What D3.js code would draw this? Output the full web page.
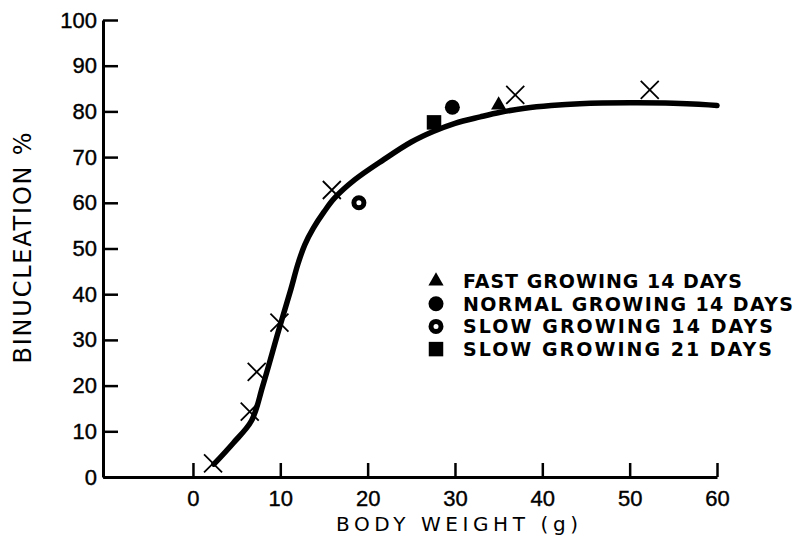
<!DOCTYPE html>
<html>
<head>
<meta charset="utf-8">
<script src="https://cdn.jsdelivr.net/npm/d3@7"></script>
<style>
  body { margin: 0; background: #fff; }
  svg { display: block; }
  text { fill: #000; }
</style>
</head>
<body>
<div id="chart"></div>
<script>
// size of the page
const WIDTH = 801
const HEIGHT = 545

// axes
const X_TICKS = [0, 10, 20, 30, 40, 50, 60];
const Y_TICKS = [0, 10, 20, 30, 40, 50, 60, 70, 80, 90, 100];

// fitted curve (body weight g, binucleation %)
const curveWeight = [2.4, 4.6, 6.7, 8.0, 9.8, 11.2, 12.0, 12.8, 13.8, 15.0, 16.2, 18.5, 21.8, 25, 27.5, 30, 32.9, 35.2, 38, 41, 44.3, 50, 55, 60];
const curvePct    = [2.8, 7.4, 12.3, 20, 32, 41, 46.5, 50.8, 54.5, 58, 61, 65, 69.4, 73.3, 75.6, 77.4, 78.8, 79.8, 80.7, 81.3, 81.7, 81.9, 81.8, 81.3];

// crosses on the curve
const crossWeight = [2.3, 6.5, 7.3, 9.9, 15.9, 36.9, 52.3];
const crossPct    = [3, 14.3, 23, 33.8, 62.8, 83.6, 84.7];

// groups
const groupLabels = ["FAST GROWING 14 DAYS", "NORMAL GROWING 14 DAYS", "SLOW GROWING 14 DAYS", "SLOW GROWING 21 DAYS"];
const groupShapes = ["triangle", "circle", "ring", "square"];
const groupWeight = [35.0, 29.7, 19.0, 27.6];
const groupPct    = [81.4, 80.9, 60.0, 77.6];

const svg = d3.select("#chart")
	.append("svg")
		.attr("width", WIDTH)
		.attr("height", HEIGHT);

const x = d3.scaleLinear()
	.domain([-10.3, 60])
	.range([103, 717]);

const y = d3.scaleLinear()
	.domain([0, 100])
	.range([477, 20]);

const FONT = "'Liberation Sans', Arial, sans-serif";
const TITLE_FONT = "'DejaVu Sans', sans-serif";

// y axis
const yAxis = svg.append("g")
	.attr("transform", `translate(${x(-10.3)},0)`)
	.call(d3.axisLeft(y).tickValues(Y_TICKS).tickSizeInner(-15).tickSizeOuter(0).tickPadding(6));

// x axis
const xAxis = svg.append("g")
	.attr("transform", `translate(0,${y(0)})`)
	.call(d3.axisBottom(x).tickValues(X_TICKS).tickSizeInner(-14).tickSizeOuter(0).tickPadding(13));

[yAxis, xAxis].forEach((g) => {
	g.attr("font-family", FONT).attr("font-size", 22);
	g.select(".domain").attr("stroke", "#000").attr("stroke-width", 3);
	g.selectAll(".tick line").attr("stroke", "#000").attr("stroke-width", 2.5);
	g.selectAll(".tick text").attr("fill", "#000").attr("stroke", "#000").attr("stroke-width", 0.4);
});

// axis titles
svg.append("text")
	.attr("x", 457)
	.attr("y", 531)
	.attr("text-anchor", "middle")
	.attr("font-family", TITLE_FONT)
	.attr("font-size", 20)
	.attr("textLength", 242)
	.attr("lengthAdjust", "spacing")
	.text("BODY WEIGHT (g)");

svg.append("text")
	.attr("transform", "translate(31,248) rotate(-90)")
	.attr("text-anchor", "middle")
	.attr("font-family", TITLE_FONT)
	.attr("font-size", 24)
	.attr("textLength", 231)
	.attr("lengthAdjust", "spacing")
	.text("BINUCLEATION %");

// curve
const curveData = curveWeight.map((w, i) => [w, curvePct[i]]);
svg.append("path")
	.datum(curveData)
	.attr("fill", "none")
	.attr("stroke", "#000")
	.attr("stroke-width", 5.5)
	.attr("stroke-linecap", "round")
	.attr("d", d3.line()
		.x((d) => x(d[0]))
		.y((d) => y(d[1]))
		.curve(d3.curveCatmullRom.alpha(0.5)));

// crosses
const crossData = crossWeight.map((w, i) => [w, crossPct[i]]);
svg.selectAll(".cross")
	.data(crossData)
	.enter()
	.append("path")
		.attr("class", "cross")
		.attr("transform", (d) => `translate(${x(d[0])},${y(d[1])})`)
		.attr("d", "M-9,-9L9,9M-9,9L9,-9")
		.attr("stroke", "#000")
		.attr("stroke-width", 1.8)
		.attr("fill", "none");

// marker drawing
function drawMarker(g, shape) {
	if (shape === "ring") {
		g.append("circle").attr("r", 5).attr("fill", "#fff").attr("stroke", "#000").attr("stroke-width", 5);
	} else if (shape === "circle") {
		g.append("circle").attr("r", 7.5).attr("fill", "#000");
	} else if (shape === "square") {
		g.append("path").attr("d", d3.symbol(d3.symbolSquare, 210)()).attr("fill", "#000");
	} else {
		g.append("path").attr("d", d3.symbol(d3.symbolTriangle, 100)()).attr("fill", "#000");
	}
}

groupShapes.forEach((s, i) => {
	const g = svg.append("g")
		.attr("transform", `translate(${x(groupWeight[i])},${y(groupPct[i])})`);
	drawMarker(g, s);
});

// legend
const LEGEND_WIDTHS = [279, 330, 310, 309];
groupLabels.forEach((label, i) => {
	const yy = 281 + i * 22.7;
	const g = svg.append("g").attr("transform", `translate(436,${yy})`);
	drawMarker(g, groupShapes[i]);
	svg.append("text")
		.attr("x", 463)
		.attr("y", yy + 7)
		.attr("font-family", TITLE_FONT)
		.attr("font-size", 19)
		.attr("font-weight", "bold")
		.attr("textLength", LEGEND_WIDTHS[i])
		.attr("lengthAdjust", "spacing")
		.text(label);
});
</script>
</body>
</html>
